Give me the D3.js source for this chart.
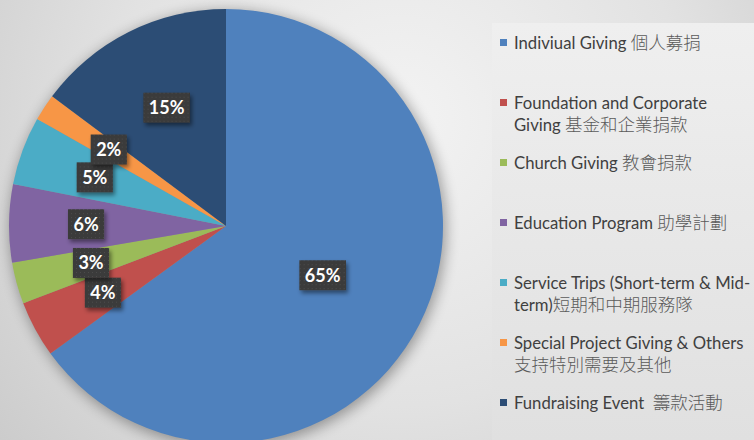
<!DOCTYPE html>
<html>
<head>
<meta charset="utf-8">
<script src="https://cdn.jsdelivr.net/npm/d3@7"></script>
<style>
  html, body { margin: 0; padding: 0; overflow: hidden; }
  svg { display: block; }
</style>
</head>
<body>
<div id="chart"></div>
<script>
// legend text, one array per entry (already wrapped like the original)
const categories = [
  ["Indiviual Giving 個人募捐"],
  ["Foundation and Corporate", "Giving 基金和企業捐款"],
  ["Church Giving 教會捐款"],
  ["Education Program 助學計劃"],
  ["Service Trips (Short-term & Mid-", "term)短期和中期服務隊"],
  ["Special Project Giving & Others", "支持特別需要及其他"],
  ["Fundraising Event\u00a0 籌款活動"]
];
const values = [65, 4.2, 3.1, 5.8, 5.1, 2.0, 14.8];
const colors = ["#4f81bd", "#c0504d", "#9bbb59", "#8064a2", "#4bacc6", "#f79646", "#2c4d75"];

const width = 754, height = 440;
const cx = 226, cy = 226, radius = 217;

const svg = d3.select("#chart").append("svg")
    .attr("width", width)
    .attr("height", height);

const defs = svg.append("defs");

// background: soft radial grey
const bg = defs.append("radialGradient")
    .attr("id", "bgGrad")
    .attr("gradientUnits", "userSpaceOnUse")
    .attr("cx", 400).attr("cy", 120).attr("r", 520);
bg.append("stop").attr("offset", "0%").attr("stop-color", "#f3f3f3");
bg.append("stop").attr("offset", "55%").attr("stop-color", "#e2e2e2");
bg.append("stop").attr("offset", "100%").attr("stop-color", "#cbcbcb");

const panelGrad = defs.append("linearGradient")
    .attr("id", "panelGrad")
    .attr("x1", 0).attr("y1", 0).attr("x2", 0).attr("y2", 1);
panelGrad.append("stop").attr("offset", "0%").attr("stop-color", "#efefef");
panelGrad.append("stop").attr("offset", "100%").attr("stop-color", "#e0e0e0");

defs.append("filter").attr("id", "pieShadow")
    .attr("x", "-20%").attr("y", "-20%").attr("width", "140%").attr("height", "140%")
  .append("feGaussianBlur").attr("stdDeviation", 7);

const boxShadow = defs.append("filter").attr("id", "boxShadow")
    .attr("x", "-30%").attr("y", "-30%").attr("width", "160%").attr("height", "160%");
boxShadow.append("feDropShadow")
    .attr("dx", 2).attr("dy", 3).attr("stdDeviation", 2)
    .attr("flood-color", "#000").attr("flood-opacity", 0.45);

// little dotted texture for the data label boxes
const dots = defs.append("pattern").attr("id", "dots")
    .attr("patternUnits", "userSpaceOnUse")
    .attr("width", 4).attr("height", 4);
dots.append("rect").attr("width", 4).attr("height", 4).attr("fill", "#3a3a3a");
dots.append("rect").attr("x", 1).attr("y", 1).attr("width", 1).attr("height", 1).attr("fill", "#4d4d4d");

svg.append("rect")
    .attr("width", width).attr("height", height)
    .attr("fill", "url(#bgGrad)");

// legend panel
svg.append("rect")
    .attr("x", 492).attr("y", 23)
    .attr("width", width - 492).attr("height", height - 23)
    .attr("fill", "url(#panelGrad)");

// pie
const pie = d3.pie().sort(null).value(d => d);
const arcs = pie(values);
const total = d3.sum(values);

const arc = d3.arc().innerRadius(0).outerRadius(radius);

const g = svg.append("g").attr("transform", `translate(${cx},${cy})`);

g.append("circle")
    .attr("cx", 2).attr("cy", 3)
    .attr("r", radius + 1)
    .attr("fill", "#000")
    .attr("opacity", 0.35)
    .attr("filter", "url(#pieShadow)");

g.selectAll(".slice")
    .data(arcs)
    .enter().append("path")
    .attr("class", "slice")
    .attr("d", arc)
    .attr("fill", (d, i) => colors[i]);

// data labels - excel puts the small ones further out
const labelRadius = d => {
    const share = d.value / total;
    if (share > 0.5) return radius * 0.5;
    if (share > 0.1) return radius * 0.61;
    return radius * 0.645;
};

const labels = g.selectAll(".label")
    .data(arcs)
    .enter().append("g")
    .attr("class", "label")
    .attr("transform", d => {
        const r = labelRadius(d);
        const c = d3.arc().innerRadius(r).outerRadius(r).centroid(d);
        return `translate(${c[0]},${c[1]})`;
    });

labels.each(function(d) {
    const sel = d3.select(this);
    const txt = Math.round(d.value / total * 100) + "%";
    const t = sel.append("text")
        .attr("text-anchor", "middle")
        .attr("dy", "0.36em")
        .attr("fill", "#ffffff")
        .attr("font-family", "Lato, 'Open Sans', sans-serif")
        .attr("font-weight", "bold")
        .attr("font-size", 18)
        .text(txt);
    const w = t.node().getComputedTextLength() + 11;
    const h = 30;
    sel.insert("rect", "text")
        .attr("x", -w / 2).attr("y", -h / 2)
        .attr("width", w).attr("height", h)
        .attr("fill", "url(#dots)")
        .attr("filter", "url(#boxShadow)");
});

// legend
const legend = svg.append("g").attr("transform", "translate(500,0)");
const cjk = /[\u3000-\u9fff\uff00-\uffef]+/g;

const items = legend.selectAll(".item")
    .data(categories)
    .enter().append("g")
    .attr("class", "item")
    .attr("transform", (d, i) => `translate(0,${43 + i * 60})`);

items.append("rect")
    .attr("x", 0).attr("y", -4)
    .attr("width", 7).attr("height", 7)
    .attr("fill", (d, i) => colors[i]);

items.each(function(lines) {
    const sel = d3.select(this);
    lines.forEach((line, j) => {
        const t = sel.append("text")
            .attr("x", 14)
            .attr("y", j * 22 + 6)
            .attr("font-family", "Lato, 'Noto Sans CJK TC', sans-serif")
            .attr("font-size", 16.7)
            .attr("fill", "#404040");
        // split latin / cjk so the chinese can be a bit lighter like the original
        let last = 0;
        line.replace(cjk, (m, idx) => {
            if (idx > last) t.append("tspan").text(line.slice(last, idx));
            t.append("tspan").attr("fill", "#5a5a5a")
                .attr("font-family", "'Noto Sans CJK TC', sans-serif")
                .attr("font-weight", 300)
                .attr("font-size", 17.5)
                .text(m);
            last = idx + m.length;
            return m;
        });
        if (last < line.length) t.append("tspan").text(line.slice(last));
    });
});
</script>
</body>
</html>
